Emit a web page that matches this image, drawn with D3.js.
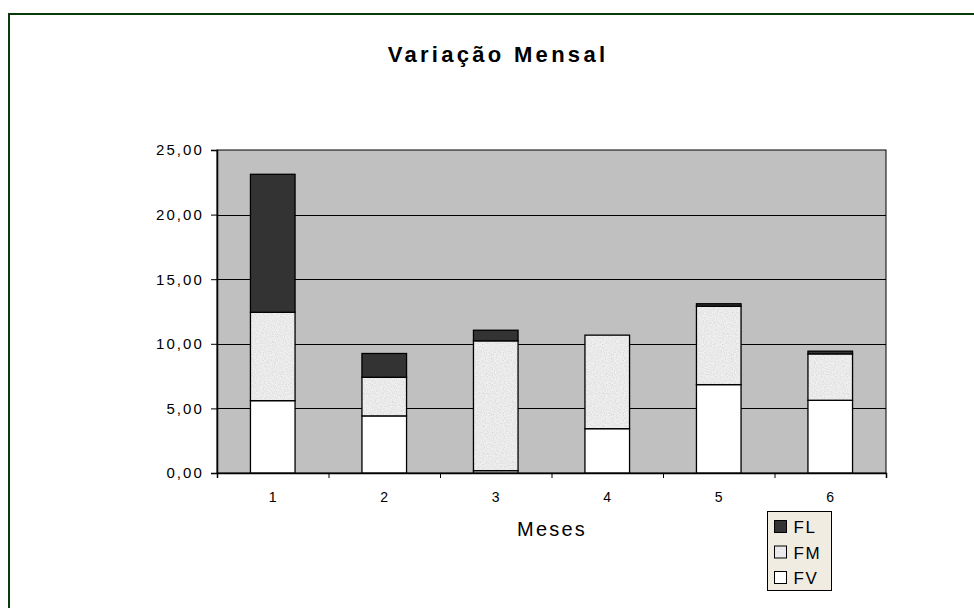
<!DOCTYPE html>
<html>
<head>
<meta charset="utf-8">
<script src="https://cdn.jsdelivr.net/npm/d3@7"></script>
<style>
  body { margin: 0; background: #fff; }
  text { font-family: "Liberation Sans", Arial, sans-serif; fill: #000; }
</style>
</head>
<body>
<svg id="chart" width="974" height="608"></svg>
<script>
// values (stacked: FV bottom, FM middle, FL top)
var months = ['1', '2', '3', '4', '5', '6']
var FV = [5.60, 4.42, 0.18, 3.43, 6.84, 5.63]
var FM = [6.84, 2.99, 10.05, 7.24, 6.07, 3.59]
var FL = [10.68, 1.84, 0.82, 0.00, 0.19, 0.21]
var yTicks = [0, 5, 10, 15, 20, 25]
var seriesNames = ['FV', 'FM', 'FL']

var svg = d3.select('#chart')

// speckled light fill for FM
var defs = svg.append('defs')
var filt = defs.append('filter').attr('id', 'speckle')
  .attr('x', 0).attr('y', 0).attr('width', 1).attr('height', 1)
filt.append('feTurbulence').attr('type', 'fractalNoise')
  .attr('baseFrequency', 0.9).attr('numOctaves', 2).attr('seed', 3).attr('result', 'noise')
filt.append('feColorMatrix').attr('in', 'noise').attr('type', 'matrix')
  .attr('values', '0 0 0 0 0.55  0 0 0 0 0.55  0 0 0 0 0.55  0 0 0 -1.1 0.75')
  .attr('result', 'dots')
filt.append('feComposite').attr('in', 'dots').attr('in2', 'SourceGraphic').attr('operator', 'atop')
var pat = defs.append('pattern').attr('id', 'fmFill').attr('patternUnits', 'userSpaceOnUse')
  .attr('width', 60).attr('height', 60)
pat.append('rect').attr('width', 60).attr('height', 60).attr('fill', '#f2f2f2')
pat.append('rect').attr('width', 60).attr('height', 60).attr('fill', '#f2f2f2')
  .attr('filter', 'url(#speckle)')

var colors = { FV: '#ffffff', FM: 'url(#fmFill)', FL: '#333333' }

// outer frame
svg.append('rect').attr('x', 9).attr('y', 14).attr('width', 980).attr('height', 620)
  .attr('fill', 'none').attr('stroke', '#0a3a0a').attr('stroke-width', 2)

var plot = { left: 217, right: 886, top: 150, bottom: 473 }

var y = d3.scaleLinear().domain([0, 25]).range([plot.bottom, plot.top])
var x = d3.scaleBand().domain(months).range([plot.left, plot.right])
  .paddingInner(0.6).paddingOuter(0.3)
var xEdge = d3.scaleLinear().domain([0, months.length]).range([plot.left, plot.right])

// plot area
svg.append('rect')
  .attr('x', plot.left).attr('y', plot.top)
  .attr('width', plot.right - plot.left).attr('height', plot.bottom - plot.top)
  .attr('fill', '#c0c0c0').attr('stroke', '#000').attr('stroke-width', 1)

svg.append('g').selectAll('line').data(yTicks.slice(1, -1)).enter().append('line')
  .attr('x1', plot.left).attr('x2', plot.right)
  .attr('y1', function (d) { return Math.round(y(d)) + 0.5 })
  .attr('y2', function (d) { return Math.round(y(d)) + 0.5 })
  .attr('stroke', '#000').attr('stroke-width', 1)

// stacked bars
var table = months.map(function (m, i) { return { month: m, FV: FV[i], FM: FM[i], FL: FL[i] } })
var stacked = d3.stack().keys(seriesNames)(table)

svg.append('g').selectAll('g').data(stacked).enter().append('g')
    .attr('fill', function (s) { return colors[s.key] })
  .selectAll('rect').data(function (s) { return s }).enter().append('rect')
    .attr('x', function (d) { return x(d.data.month) })
    .attr('y', function (d) { return y(d[1]) })
    .attr('width', x.bandwidth())
    .attr('height', function (d) { return y(d[0]) - y(d[1]) })
    .attr('stroke', '#000').attr('stroke-width', 1.3)
    .attr('display', function (d) { return d[1] - d[0] > 0 ? null : 'none' })

// axes
var yAxis = svg.append('g').attr('transform', 'translate(' + plot.left + ',0)')
  .call(d3.axisLeft(y).tickValues(yTicks).tickSize(6).tickPadding(7)
    .tickFormat(function (d) { return d3.format('.2f')(d).replace('.', ',') }))
yAxis.select('.domain').attr('stroke', '#000').attr('stroke-width', 1.5)
yAxis.selectAll('text').attr('font-size', 15).attr('letter-spacing', 2.1)
  .style('font-family', '"Liberation Sans", Arial, sans-serif')

var xTickAxis = svg.append('g').attr('transform', 'translate(0,' + plot.bottom + ')')
  .call(d3.axisBottom(xEdge).ticks(months.length).tickSize(5).tickFormat(''))
xTickAxis.select('.domain').attr('stroke', '#000').attr('stroke-width', 1.5)

var xAxis = svg.append('g').attr('transform', 'translate(0,' + plot.bottom + ')')
  .call(d3.axisBottom(x).tickSize(0).tickPadding(19))
xAxis.select('.domain').remove()
xAxis.selectAll('text').attr('font-size', 14)
  .style('font-family', '"Liberation Sans", Arial, sans-serif')

// titles
svg.append('text').attr('x', 498).attr('y', 62).attr('text-anchor', 'middle')
  .attr('font-size', 22).attr('font-weight', 'bold').attr('letter-spacing', 3.3)
  .text('Variação Mensal')

svg.append('text').attr('x', 552).attr('y', 536).attr('text-anchor', 'middle')
  .attr('font-size', 20).attr('letter-spacing', 2.2)
  .text('Meses')

// legend
var legend = svg.append('g').attr('transform', 'translate(767.5,511.5)')
legend.append('rect').attr('width', 64).attr('height', 79)
  .attr('fill', '#f1ece1').attr('stroke', '#000').attr('stroke-width', 1)
var items = legend.selectAll('g.item').data(seriesNames.slice().reverse()).enter().append('g')
  .attr('class', 'item')
  .attr('transform', function (d, i) { return 'translate(7,' + (9 + i * 25.5) + ')' })
items.append('rect').attr('width', 12).attr('height', 12)
  .attr('fill', function (d) { return colors[d] }).attr('stroke', '#000').attr('stroke-width', 1)
items.append('text').attr('x', 19).attr('y', 12.5)
  .attr('font-size', 17).attr('letter-spacing', 1.6)
  .text(function (d) { return d })
</script>
</body>
</html>
